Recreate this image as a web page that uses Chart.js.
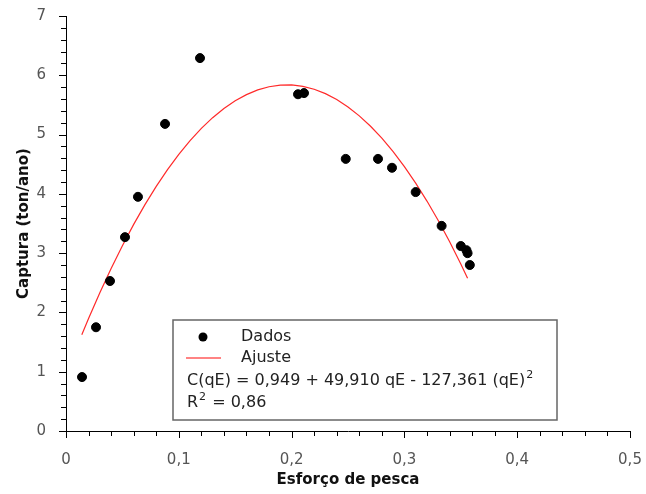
<!DOCTYPE html>
<html>
<head>
<meta charset="utf-8">
<script src="https://cdn.jsdelivr.net/npm/chart.js@4"></script>
<style>
  html, body { margin: 0; padding: 0; background: #fff; }
</style>
</head>
<body>
<canvas id="graficoCaptura" width="646" height="494"></canvas>
<script>
// Observações: esforço de pesca x captura (ton/ano)
const esforco = [0.0142, 0.0266, 0.039, 0.0523, 0.0638, 0.0878, 0.1188, 0.2057, 0.211,
                 0.248, 0.2766, 0.289, 0.310, 0.333, 0.350, 0.355, 0.356, 0.358];
const captura = [0.91, 1.75, 2.53, 3.27, 3.95, 5.18, 6.29, 5.68, 5.70,
                 4.59, 4.59, 4.44, 4.03, 3.46, 3.12, 3.05, 3.00, 2.80];

// Ajuste quadrático C(qE) = a + b qE + c (qE)^2
const coefAjuste = [0.949, 49.910, -127.361];
const xAjuste = [0.014, 0.02, 0.03, 0.04, 0.05, 0.06, 0.07, 0.08, 0.09, 0.10, 0.11, 0.12,
                 0.13, 0.14, 0.15, 0.16, 0.17, 0.18, 0.19, 0.20, 0.21, 0.22, 0.23, 0.24,
                 0.25, 0.26, 0.27, 0.28, 0.29, 0.30, 0.31, 0.32, 0.33, 0.34, 0.35, 0.356];
const r2 = '0,86';

const ticksX = [0, 0.1, 0.2, 0.3, 0.4, 0.5];
const ticksY = [0, 1, 2, 3, 4, 5, 6, 7];

const fonte = '"DejaVu Sans", sans-serif';
const virgula = v => String(Math.round(v * 10) / 10).replace('.', ',');

const pontos = esforco.map((x, i) => ({ x: x, y: captura[i] }));
const curva = xAjuste.map(x => ({ x: x, y: coefAjuste[0] + coefAjuste[1] * x + coefAjuste[2] * x * x }));

// marcas maiores e menores nos eixos
const marcasEixos = {
  id: 'marcasEixos',
  afterDraw(chart) {
    const ctx = chart.ctx;
    const sx = chart.scales.x, sy = chart.scales.y;
    ctx.save();
    ctx.strokeStyle = '#000';
    ctx.lineWidth = 1;
    ctx.beginPath();
    for (let i = 0; i <= 25; i++) {
      const px = Math.round(sx.getPixelForValue(i * 0.02)) + 0.5;
      const len = i % 5 === 0 ? 7 : 5;
      ctx.moveTo(px, sy.bottom);
      ctx.lineTo(px, sy.bottom + len);
    }
    for (let i = 0; i <= 35; i++) {
      const py = Math.round(sy.getPixelForValue(i * 0.2)) + 0.5;
      const len = i % 5 === 0 ? 7 : 5;
      ctx.moveTo(sx.left, py);
      ctx.lineTo(sx.left - len, py);
    }
    ctx.stroke();
    ctx.restore();
  }
};

// texto com expoente pequeno e elevado
function textoExpoente(ctx, base, expo, resto, x, y) {
  ctx.font = '16px ' + fonte;
  ctx.fillText(base, x, y);
  let px = x + ctx.measureText(base).width + 1;
  ctx.font = '11px ' + fonte;
  ctx.fillText(expo, px, y - 6);
  px += ctx.measureText(expo).width + 1;
  ctx.font = '16px ' + fonte;
  if (resto) ctx.fillText(resto, px, y);
}

// caixa de legenda com a equação
const caixaLegenda = {
  id: 'caixaLegenda',
  afterDraw(chart) {
    const ctx = chart.ctx;
    ctx.save();
    ctx.fillStyle = '#fff';
    ctx.fillRect(173, 320, 384, 100);
    ctx.strokeStyle = '#666';
    ctx.lineWidth = 1.5;
    ctx.strokeRect(173, 320, 384, 100);

    ctx.fillStyle = '#000';
    ctx.beginPath();
    ctx.arc(203, 337, 4.5, 0, Math.PI * 2);
    ctx.fill();

    ctx.strokeStyle = '#ff5a5a';
    ctx.lineWidth = 1.5;
    ctx.beginPath();
    ctx.moveTo(186, 358);
    ctx.lineTo(221, 358);
    ctx.stroke();

    ctx.fillStyle = '#222';
    ctx.font = '16px ' + fonte;
    ctx.textBaseline = 'middle';
    ctx.textAlign = 'left';
    ctx.fillText('Dados', 241, 337);
    ctx.fillText('Ajuste', 241, 358);
    textoExpoente(ctx, 'C(qE) = 0,949 + 49,910 qE - 127,361 (qE)', '2', '', 187, 381);
    textoExpoente(ctx, 'R', '2', ' = ' + r2, 187, 403);
    ctx.restore();
  }
};

new Chart(document.getElementById('graficoCaptura'), {
  type: 'scatter',
  data: {
    datasets: [
      {
        label: 'Dados',
        data: pontos,
        backgroundColor: '#000',
        borderColor: '#000',
        pointRadius: 4.5,
        pointHoverRadius: 4.5
      },
      {
        label: 'Ajuste',
        data: curva,
        showLine: true,
        borderColor: '#ff2a2a',
        borderWidth: 1.2,
        pointRadius: 0,
        tension: 0
      }
    ]
  },
  options: {
    responsive: false,
    animation: false,
    layout: { padding: { top: 16, right: 16, left: 0, bottom: 0 } },
    plugins: {
      legend: { display: false },
      tooltip: { enabled: false }
    },
    scales: {
      x: {
        type: 'linear',
        min: 0,
        max: 0.5,
        afterFit: s => { s.height = 63; s.paddingLeft = 0; s.paddingRight = 0; },
        afterBuildTicks: s => { s.ticks = ticksX.map(v => ({ value: v })); },
        grid: { display: false },
        border: { display: true, color: '#000', width: 1 },
        ticks: {
          padding: 12,
          color: '#555',
          font: { family: fonte, size: 15 },
          maxRotation: 0,
          callback: v => virgula(v)
        },
        title: {
          display: true,
          text: 'Esforço de pesca',
          color: '#111',
          font: { family: fonte, size: 15, weight: 'bold' },
          padding: { top: 0, bottom: 5 }
        }
      },
      y: {
        type: 'linear',
        min: 0,
        max: 7,
        afterFit: s => { s.width = 66; s.paddingTop = 0; s.paddingBottom = 0; },
        afterBuildTicks: s => { s.ticks = ticksY.map(v => ({ value: v })); },
        grid: { display: false },
        border: { display: true, color: '#000', width: 1 },
        ticks: {
          padding: 12,
          color: '#555',
          font: { family: fonte, size: 15 },
          callback: v => virgula(v)
        },
        title: {
          display: true,
          text: 'Captura (ton/ano)',
          color: '#111',
          font: { family: fonte, size: 15, weight: 'bold' },
          padding: { top: 15, bottom: 0 }
        }
      }
    }
  },
  plugins: [marcasEixos, caixaLegenda]
});
</script>
</body>
</html>
